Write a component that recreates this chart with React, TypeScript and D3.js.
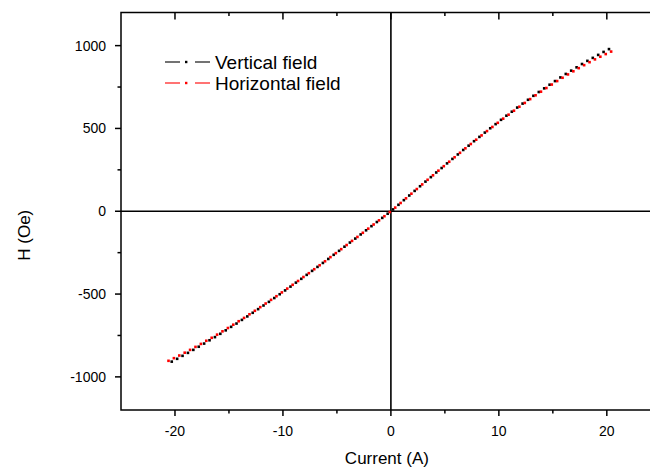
import React from "react";
import * as d3 from "d3";

// Magnetizing current (A) and resulting field (Oe) for each coil orientation
const vertCurrent = [
  -20.3, -19.8, -19.3, -18.8, -18.3, -17.8, -17.3, -16.8, -16.3, -15.8,
  -15.3, -14.8, -14.3, -13.8, -13.3, -12.8, -12.3, -11.8, -11.3, -10.8,
  -10.3, -9.8, -9.3, -8.8, -8.3, -7.8, -7.3, -6.8, -6.3, -5.8,
  -5.3, -4.8, -4.3, -3.8, -3.3, -2.8, -2.3, -1.8, -1.3, -0.8, -0.3,
  0.2, 0.7, 1.2, 1.7, 2.2, 2.7, 3.2, 3.7, 4.2, 4.7,
  5.2, 5.7, 6.2, 6.7, 7.2, 7.7, 8.2, 8.7, 9.2, 9.7,
  10.2, 10.7, 11.2, 11.7, 12.2, 12.7, 13.2, 13.7, 14.2, 14.7,
  15.2, 15.7, 16.2, 16.7, 17.2, 17.7, 18.2, 18.7, 19.2, 19.7, 20.2,
];
const vertField = [
  -908, -891, -873, -855, -837, -818, -799, -779, -760, -740,
  -719, -698, -678, -656, -635, -613, -591, -569, -547, -524,
  -501, -478, -455, -431, -408, -384, -360, -336, -312, -288,
  -263, -239, -214, -189, -165, -140, -115, -90, -65, -40, -15,
  11, 39, 67, 95, 123, 151, 179, 206, 234, 261,
  289, 316, 343, 370, 396, 423, 449, 475, 501, 526,
  552, 577, 601, 626, 650, 673, 697, 720, 742, 764,
  786, 808, 829, 849, 869, 889, 908, 926, 944, 962, 979,
];
const horizCurrent = [
  -20.6, -20.1, -19.6, -19.1, -18.6, -18.1, -17.6, -17.1, -16.6, -16.1,
  -15.6, -15.1, -14.6, -14.1, -13.6, -13.1, -12.6, -12.1, -11.6, -11.1,
  -10.6, -10.1, -9.6, -9.1, -8.6, -8.1, -7.6, -7.1, -6.6, -6.1,
  -5.6, -5.1, -4.6, -4.1, -3.6, -3.1, -2.6, -2.1, -1.6, -1.1, -0.6, -0.1,
  0.4, 0.9, 1.4, 1.9, 2.4, 2.9, 3.4, 3.9, 4.4, 4.9,
  5.4, 5.9, 6.4, 6.9, 7.4, 7.9, 8.4, 8.9, 9.4, 9.9,
  10.4, 10.9, 11.4, 11.9, 12.4, 12.9, 13.4, 13.9, 14.4, 14.9,
  15.4, 15.9, 16.4, 16.9, 17.4, 17.9, 18.4, 18.9, 19.4, 19.9, 20.4,
];
const horizField = [
  -903, -887, -871, -854, -837, -819, -801, -782, -764, -745,
  -725, -705, -685, -664, -644, -622, -601, -579, -557, -535,
  -513, -490, -467, -444, -421, -397, -374, -350, -326, -302,
  -277, -253, -229, -204, -179, -155, -130, -105, -80, -55, -30, -5,
  22, 50, 78, 106, 134, 162, 190, 217, 245, 272,
  299, 326, 353, 380, 406, 432, 458, 484, 509, 534,
  559, 583, 607, 631, 654, 677, 700, 722, 744, 765,
  786, 806, 826, 845, 864, 882, 900, 917, 933, 949, 964,
];

const seriesNames = ["Vertical field", "Horizontal field"];
const seriesColors = ["#000000", "#ff0000"];

const xMajorTicks = [-20, -10, 0, 10, 20];
const xMinorTicks = [-15, -5, 5, 15];
const yMajorTicks = [-1000, -500, 0, 500, 1000];
const yMinorTicks = [-750, -250, 250, 750];

const xTitle = "Current (A)";
const yTitle = "H (Oe)";

const W = 650;
const H = 470;
const plot = { left: 121, right: 660.8, top: 12.5, bottom: 410 };
const FONT = "'Liberation Sans', Arial, Helvetica, sans-serif";

export default function App() {
  const x = d3.scaleLinear().domain([-25, 25]).range([plot.left, plot.right]);
  const y = d3.scaleLinear().domain([-1200, 1200]).range([plot.bottom, plot.top]);

  const series = [
    { xs: vertCurrent, ys: vertField },
    { xs: horizCurrent, ys: horizField },
  ];

  const majorLen = 6;
  const minorLen = 3.5;
  const axisStroke = 1.5;
  const m = 2.6; // marker size

  return (
    <svg
      width={W}
      height={H}
      style={{ position: "absolute", left: 0, top: 0, background: "#fff" }}
      fontFamily={FONT}
    >
      <rect x={0} y={0} width={W} height={H} fill="#fff" />

      {/* zero lines */}
      <line x1={x(0)} x2={x(0)} y1={plot.top} y2={plot.bottom} stroke="#000" strokeWidth={1.6} />
      <line x1={plot.left} x2={plot.right} y1={y(0)} y2={y(0)} stroke="#000" strokeWidth={1.6} />

      {/* data markers */}
      {series.map((s, si) => (
        <g key={si} fill={seriesColors[si]}>
          {s.xs.map((xv, i) => (
            <rect
              key={i}
              x={x(xv) - m / 2}
              y={y(s.ys[i]) - m / 2}
              width={m}
              height={m}
            />
          ))}
        </g>
      ))}

      {/* frame */}
      <rect
        x={plot.left}
        y={plot.top}
        width={plot.right - plot.left}
        height={plot.bottom - plot.top}
        fill="none"
        stroke="#000"
        strokeWidth={axisStroke}
      />

      {/* bottom axis ticks (outward) and top axis ticks (inward) */}
      {xMajorTicks.map((t) => (
        <g key={"xM" + t}>
          <line x1={x(t)} x2={x(t)} y1={plot.bottom} y2={plot.bottom + majorLen} stroke="#000" strokeWidth={axisStroke} />
          <line x1={x(t)} x2={x(t)} y1={plot.top} y2={plot.top + majorLen + 1} stroke="#000" strokeWidth={axisStroke} />
          <text x={x(t)} y={plot.bottom + 26} fontSize={14} textAnchor="middle" fill="#000">
            {t}
          </text>
        </g>
      ))}
      {xMinorTicks.map((t) => (
        <g key={"xm" + t}>
          <line x1={x(t)} x2={x(t)} y1={plot.bottom} y2={plot.bottom + minorLen} stroke="#000" strokeWidth={axisStroke} />
          <line x1={x(t)} x2={x(t)} y1={plot.top} y2={plot.top + minorLen} stroke="#000" strokeWidth={axisStroke} />
        </g>
      ))}

      {/* left axis ticks (outward) */}
      {yMajorTicks.map((t) => (
        <g key={"yM" + t}>
          <line x1={plot.left - majorLen} x2={plot.left} y1={y(t)} y2={y(t)} stroke="#000" strokeWidth={axisStroke} />
          <text x={plot.left - 15} y={y(t) + 5} fontSize={14} textAnchor="end" fill="#000">
            {t}
          </text>
        </g>
      ))}
      {yMinorTicks.map((t) => (
        <line key={"ym" + t} x1={plot.left - minorLen} x2={plot.left} y1={y(t)} y2={y(t)} stroke="#000" strokeWidth={axisStroke} />
      ))}

      {/* axis titles */}
      <text x={x(0) - 4} y={464} fontSize={17} textAnchor="middle" fill="#000">
        {xTitle}
      </text>
      <text
        transform={`translate(30, ${y(0) + 24}) rotate(-90)`}
        fontSize={17}
        textAnchor="middle"
        fill="#000"
      >
        {yTitle}
      </text>

      {/* legend */}
      {seriesNames.map((name, i) => {
        const ly = 62 + i * 21;
        return (
          <g key={name}>
            <line x1={165} x2={180} y1={ly} y2={ly} stroke={seriesColors[i]} strokeWidth={1.1} />
            <rect x={185} y={ly - 1.2} width={2.4} height={2.4} fill={seriesColors[i]} />
            <line x1={195} x2={210} y1={ly} y2={ly} stroke={seriesColors[i]} strokeWidth={1.1} />
            <text x={215} y={ly + 6.5} fontSize={19} fill="#000">
              {name}
            </text>
          </g>
        );
      })}
    </svg>
  );
}
